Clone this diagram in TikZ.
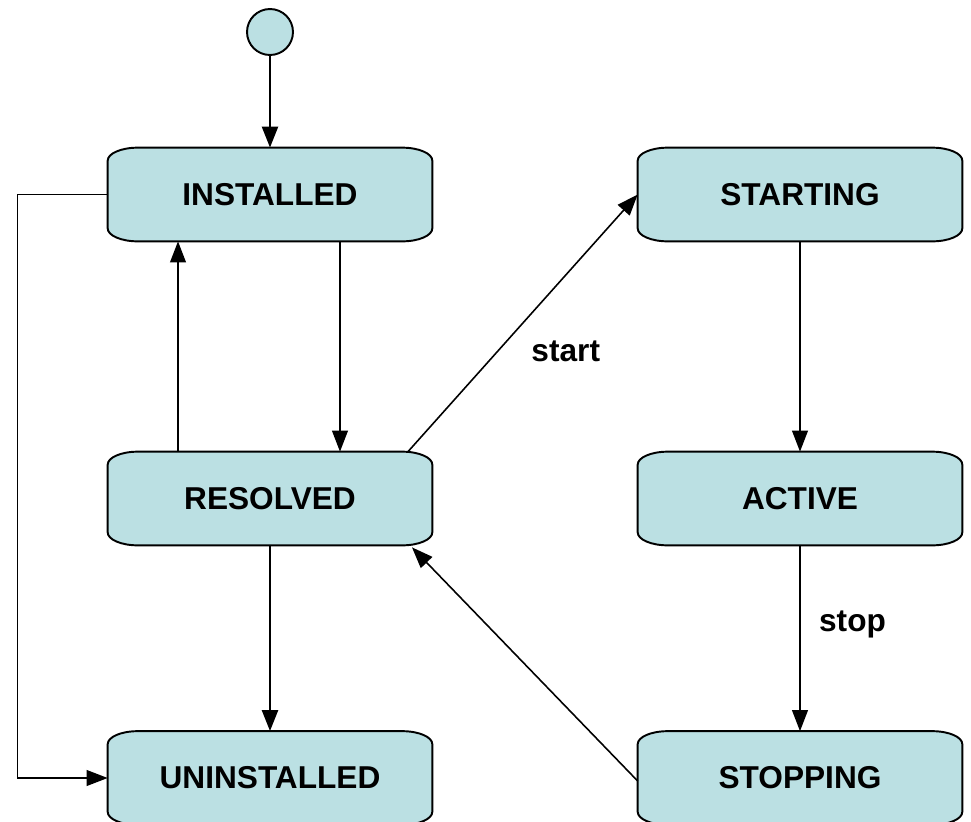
\documentclass[tikz,border=0pt]{standalone}
\usepackage{fontspec}
\setmainfont{Liberation Sans}
\usepackage{tikz}
\usetikzlibrary
  {
    arrows.meta,              % filled triangle tips
    backgrounds,              % frames go behind the state names
    positioning,              % place labels relative to edges
  }

\definecolor{statefill}{RGB}{187,224,227}

\begin{document}
\begin{tikzpicture}
    [
      x=0.02cm, y=-0.02cm,
      state/.style=
        {
          rectangle,
          minimum width=6.48cm,
          minimum height=1.86cm,
          font=\fontsize{18}{20}\selectfont\bfseries,
        },
      frame/.style=
        {
          line width=1.1pt,
          draw=black,
          fill=statefill,
        },
      initial/.style=
        {
          circle,
          minimum size=0.92cm,
          line width=1.1pt,
          draw=black,
          fill=statefill,
        },
      trans/.style=
        {
          line width=0.9pt,
          -{Triangle[length=12pt,width=9pt]},
        },
      heavy/.style=
        {
          trans,
          line width=1.7pt,
        },
      edgelabel/.style=
        {
          font=\fontsize{18}{20}\selectfont\bfseries,
        }
    ]
    \useasboundingbox (0,0) rectangle (971,822);

    \node (init) [initial] at (270,32) {};
    \node (installed) [state] at (270,194.5) {INSTALLED};
    \node (resolved) [state] at (270,498.5) {RESOLVED};
    \node (uninstalled) [state] at (270,778) {UNINSTALLED};
    \node (starting) [state] at (800,194.5) {STARTING};
    \node (active) [state] at (800,498.5) {ACTIVE};
    \node (stopping) [state] at (800,778) {STOPPING};

    % boxes with flat elliptic corners
    \begin{scope}[on background layer, x=1cm, y=1cm]
      \foreach \n in {installed,resolved,uninstalled,starting,active,stopping}
        \draw [frame]
          ([xshift=0.6cm]\n.north west) -- ([xshift=-0.6cm]\n.north east)
          arc [start angle=90, end angle=0, x radius=0.6cm, y radius=0.26cm]
          -- ([yshift=0.26cm]\n.south east)
          arc [start angle=0, end angle=-90, x radius=0.6cm, y radius=0.26cm]
          -- ([xshift=0.6cm]\n.south west)
          arc [start angle=270, end angle=180, x radius=0.6cm, y radius=0.26cm]
          -- ([yshift=-0.26cm]\n.north west)
          arc [start angle=180, end angle=90, x radius=0.6cm, y radius=0.26cm]
          -- cycle;
    \end{scope}

    \draw [heavy] (init) -- (installed);
    \draw [trans] ([xshift=1.4cm]installed.south) -- ([xshift=1.4cm]resolved.north);
    \draw [trans] ([xshift=-1.84cm]resolved.north) -- ([xshift=-1.84cm]installed.south);
    \draw [trans] (installed.west) -- ++(-90,0) |- (uninstalled.west);
    \draw [heavy] (resolved) -- (uninstalled);

    \draw [trans] ([xshift=2.76cm]resolved.north) -- (starting.west)
      node (startlbl) [edgelabel, pos=0.4, right=5mm, yshift=-0.6mm] {start};
    \draw [trans] (starting) -- (active);
    \draw [trans] (active) -- (stopping)
      node (stoplbl) [edgelabel, pos=0.4, right=2.5mm, yshift=-1mm] {stop};
    \draw [trans] ([yshift=-0.06cm]stopping.west) -- ([xshift=2.84cm,yshift=-0.04cm]resolved.south);
\end{tikzpicture}
\end{document}
